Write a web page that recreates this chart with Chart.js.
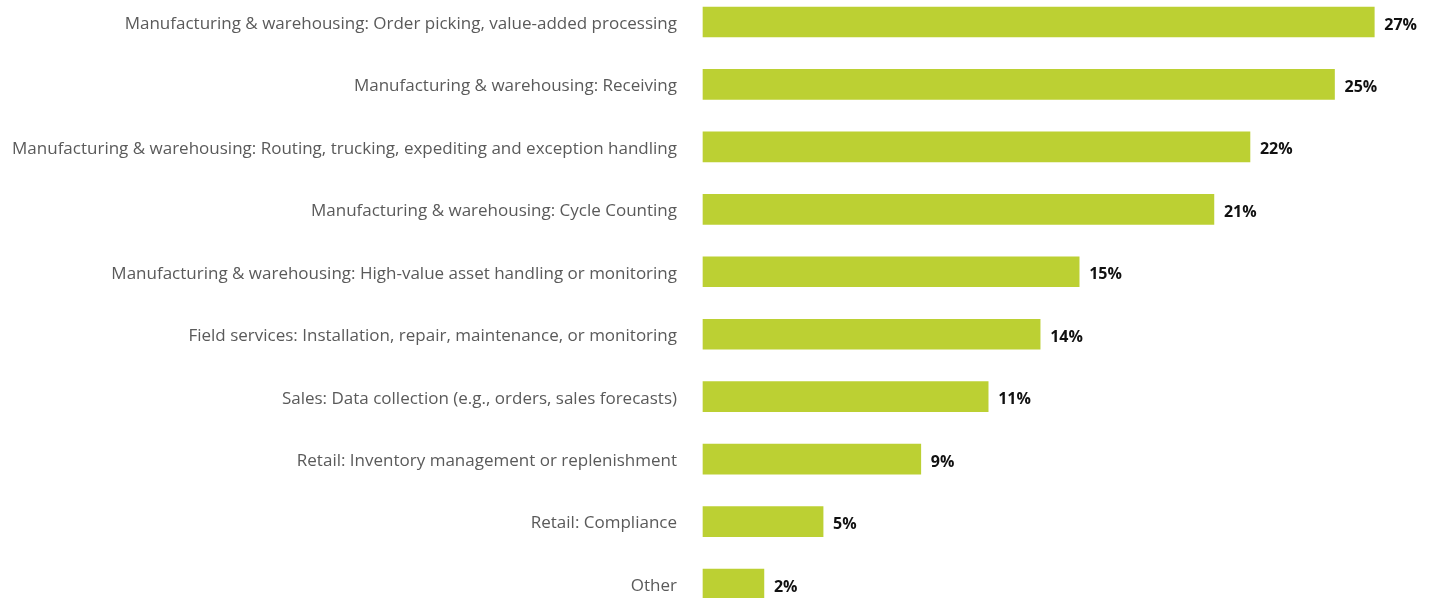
<!DOCTYPE html>
<html>
<head>
<meta charset="utf-8">
<script src="https://cdn.jsdelivr.net/npm/chart.js@4"></script>
<style>
    html, body { margin: 0; padding: 0; background: #fff; }
    #wrap { width: 1436px; height: 598px; position: relative; }
</style>
</head>
<body>
<div id="wrap"><canvas id="usesChart"></canvas></div>
<script>
// Categorias (de cima para baixo)
const categorias = [
    'Manufacturing & warehousing: Order picking, value-added processing',
    'Manufacturing & warehousing: Receiving',
    'Manufacturing & warehousing: Routing, trucking, expediting and exception handling',
    'Manufacturing & warehousing: Cycle Counting',
    'Manufacturing & warehousing: High-value asset handling or monitoring',
    'Field services: Installation, repair, maintenance, or monitoring',
    'Sales: Data collection (e.g., orders, sales forecasts)',
    'Retail: Inventory management or replenishment',
    'Retail: Compliance',
    'Other'
];

// Valores estimados a partir do comprimento das barras
const valores = [27.0, 25.4, 22.0, 20.55, 15.13, 13.56, 11.47, 8.76, 4.83, 2.45];

// Etiquetas impressas ao lado de cada barra
const etiquetas = ['27%', '25%', '22%', '21%', '15%', '14%', '11%', '9%', '5%', '2%'];

// =========================================
// Plugin: escreve a percentagem à direita de cada barra
// =========================================
const etiquetasPlugin = {
    id: 'etiquetasBarras',
    afterDatasetsDraw(chart) {
        const ctx = chart.ctx;
        const meta = chart.getDatasetMeta(0);
        ctx.save();
        ctx.fillStyle = '#111111';
        ctx.font = 'bold 16px "Open Sans", sans-serif';
        ctx.textAlign = 'left';
        ctx.textBaseline = 'middle';
        meta.data.forEach((bar, i) => {
            ctx.fillText(etiquetas[i], bar.x + 10, bar.y + 3);
        });
        ctx.restore();
    }
};

const ctx = document.getElementById('usesChart').getContext('2d');

const usesChart = new Chart(ctx, {
    type: 'bar',
    data: {
        labels: categorias,
        datasets: [{
            data: valores,
            backgroundColor: '#BCD033',
            borderWidth: 0,
            barThickness: 30,
            clip: false
        }]
    },
    options: {
        indexAxis: 'y',
        responsive: true,
        maintainAspectRatio: false,
        animation: false,
        layout: {
            padding: { top: 22, bottom: 14, right: 12, left: 0 }
        },
        plugins: {
            legend: { display: false },
            tooltip: { enabled: false }
        },
        scales: {
            x: {
                display: false,
                min: 0,
                max: 29
            },
            y: {
                offset: false,
                grid: { display: false, drawTicks: false },
                border: { display: false },
                ticks: {
                    color: '#5a5a5a',
                    font: { family: '"Open Sans", sans-serif', size: 17 },
                    padding: 26,
                    labelOffset: 2,
                    autoSkip: false
                },
                afterFit(scale) {
                    scale.width = 703;
                    scale.paddingTop = 0;
                    scale.paddingBottom = 0;
                }
            }
        }
    },
    plugins: [etiquetasPlugin]
});
</script>
</body>
</html>
